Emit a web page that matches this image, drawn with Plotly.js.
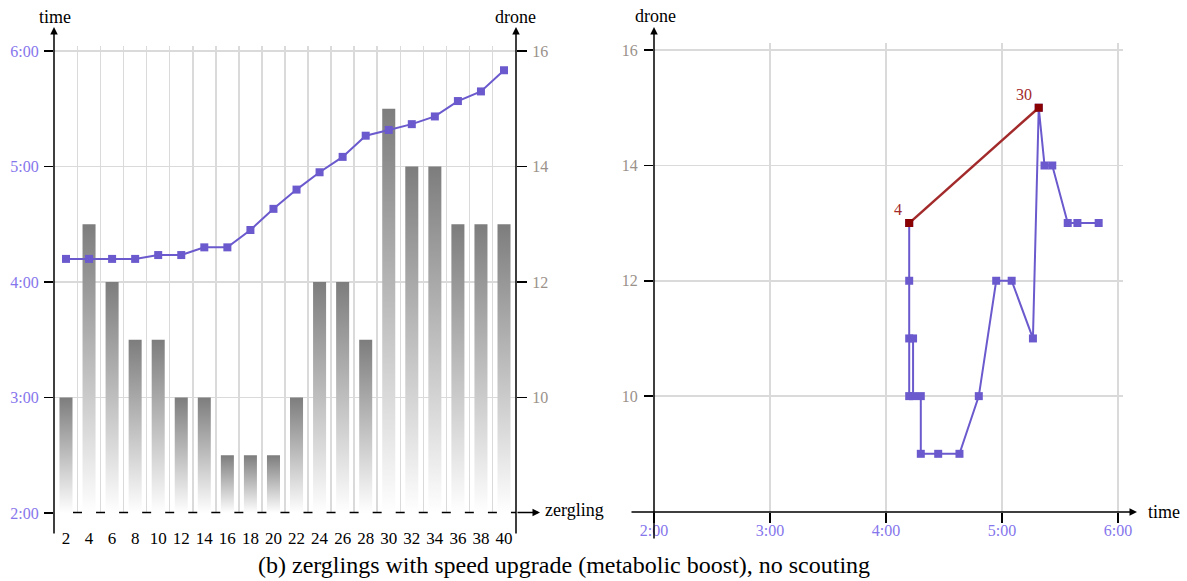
<!DOCTYPE html>
<html>
<head>
<meta charset="utf-8">
<script src="https://cdn.plot.ly/plotly-3.0.1.min.js"></script>
<style>
  html, body { margin: 0; padding: 0; background: #fff; }
  #chart { width: 1187px; height: 581px; }
</style>
</head>
<body>
<div id="chart"></div>
<script>
// ---- data ----
const zerglings = [2, 4, 6, 8, 10, 12, 14, 16, 18, 20, 22, 24, 26, 28, 30, 32, 34, 36, 38, 40];
const drones    = [10, 13, 12, 11, 11, 10, 10, 9, 9, 9, 10, 12, 12, 11, 15, 14, 14, 13, 13, 13];
const times     = ['4:12', '4:12', '4:12', '4:12', '4:14', '4:14', '4:18', '4:18', '4:27', '4:38',
                   '4:48', '4:57', '5:05', '5:16', '5:19', '5:22', '5:26', '5:34', '5:39', '5:50'];
const timeTicks  = ['2:00', '3:00', '4:00', '5:00', '6:00'];
const droneTicks = [10, 12, 14, 16];
const highlight  = [4, 30];
const caption = '(b) zerglings with speed upgrade (metabolic boost), no scouting';

// ---- helpers ----
const W = 1187, H = 581;
const px = v => v / W;
const py = v => 1 - v / H;
const toMin = s => { const p = s.split(':'); return +p[0] + (+p[1]) / 60; };
const timeMin = times.map(toMin);
const timeTickVals = timeTicks.map(toMin);

const FONT = 'Liberation Serif, DejaVu Serif, serif';
const PURPLE = '#6a5acd';
const TICKPURPLE = '#8676ec';
const TICKGRAY = '#9a918a';
const GRID = '#dadada';
const DARKRED = '#8b0000';

const traces = [];

// gradient bars (drone counts), left subplot on base axes x / y (drone)
const barW = 1.13;
zerglings.forEach((z, i) => {
  const d = drones[i];
  traces.push({
    type: 'scatter', mode: 'lines', xaxis: 'x', yaxis: 'y',
    x: [z - barW / 2, z - barW / 2, z + barW / 2, z + barW / 2, z - barW / 2],
    y: [8, d, d, 8, 8],
    fill: 'toself',
    line: { width: 0, color: 'rgba(0,0,0,0)' },
    fillgradient: { type: 'vertical', colorscale: [[0, 'rgba(255,255,255,1)'], [1, 'rgb(125,125,125)']] },
    hoverinfo: 'skip', showlegend: false
  });
});

// time line on overlaying time axis
traces.push({
  type: 'scatter', mode: 'lines+markers', xaxis: 'x', yaxis: 'y2',
  x: zerglings, y: timeMin,
  line: { color: PURPLE, width: 2 },
  marker: { symbol: 'square', size: 8, color: PURPLE },
  showlegend: false
});

// right subplot: drone vs time
traces.push({
  type: 'scatter', mode: 'lines+markers', xaxis: 'x2', yaxis: 'y5',
  x: timeMin, y: drones,
  line: { color: PURPLE, width: 2 },
  marker: { symbol: 'square', size: 8, color: PURPLE },
  showlegend: false
});
const hiIdx = highlight.map(h => zerglings.indexOf(h));
traces.push({
  type: 'scatter', mode: 'lines+markers', xaxis: 'x2', yaxis: 'y5',
  x: hiIdx.map(i => timeMin[i]), y: hiIdx.map(i => drones[i]),
  line: { color: '#a32a2a', width: 2.5 },
  marker: { symbol: 'square', size: 8, color: DARKRED },
  showlegend: false
});

// ---- decorations ----
function arrow(x0, y0, x1, y1) {
  return {
    xref: 'paper', yref: 'paper', x: px(x1), y: py(y1),
    axref: 'pixel', ayref: 'pixel', ax: x0 - x1, ay: y0 - y1,
    showarrow: true, arrowhead: 2, arrowsize: 1, arrowwidth: 1.5, arrowcolor: '#000',
    text: '', standoff: 0
  };
}
function label(text, x, y, xanchor, size, color) {
  return {
    xref: 'paper', yref: 'paper', x: px(x), y: py(y), text: text,
    showarrow: false, xanchor: xanchor || 'center', yanchor: 'middle',
    font: { family: FONT, size: size || 16, color: color || '#000' }
  };
}

const annotations = [
  arrow(54, 535, 54, 27),
  arrow(516, 535, 516, 27),
  arrow(516, 512.5, 540, 512.5),
  arrow(654, 540, 654, 27),
  arrow(630, 512, 1137, 512),
  label('time', 55, 17, 'center', 18),
  label('drone', 515, 17, 'center', 18),
  label('zergling', 543, 510, 'left', 18),
  label('drone', 655, 16, 'center', 18),
  label('time', 1146, 512, 'left', 18),
  label(caption, 564, 565, 'center', 24)
];
highlight.forEach((h, k) => {
  const i = zerglings.indexOf(h);
  annotations.push({
    xref: 'x2', yref: 'y5', x: timeMin[i], y: drones[i], text: String(h),
    showarrow: false, xanchor: 'right', yanchor: 'bottom',
    xshift: -5, yshift: 3,
    font: { family: FONT, size: 16, color: '#a32a2a' }
  });
});

const shapes = [{
  type: 'line', xref: 'paper', yref: 'paper',
  x0: px(73), x1: px(516), y0: py(512.5), y1: py(512.5),
  line: { color: '#000', width: 1.5, dash: '9px,14.05px' }
}];

const tickFont = c => ({ family: FONT, size: 16, color: c });
const leftYDom = [py(513), py(46)];
const rightYDom = [py(511.5), py(43)];
const droneRangeL = [8, 16 + 2 * 5 / 115.5];
const timeRangeL = [2, 6 + 5 / 115.5];

const layout = {
  width: W, height: H,
  margin: { l: 0, r: 0, t: 0, b: 0 },
  paper_bgcolor: '#fff', plot_bgcolor: 'rgba(0,0,0,0)',
  showlegend: false,
  font: { family: FONT },
  xaxis: {
    domain: [px(54), px(516)], range: [0.96, 41.04], anchor: 'y',
    tickmode: 'array', tickvals: zerglings, ticktext: zerglings.map(String),
    ticks: 'outside', ticklen: 10, tickcolor: 'rgba(0,0,0,0)',
    tickfont: { family: FONT, size: 17, color: '#000' },
    showgrid: false, zeroline: false, showline: false,
    minor: { tickmode: 'array', tickvals: zerglings.map(z => z + 1).concat([1]), showgrid: true, gridcolor: GRID, gridwidth: 1.5, ticks: '' }
  },
  yaxis: {  // drone (right side), base axis of left subplot
    domain: leftYDom, range: droneRangeL, anchor: 'x', side: 'right',
    tickmode: 'array', tickvals: droneTicks, ticktext: droneTicks.map(String),
    ticks: 'outside', ticklen: 10, tickwidth: 1.5, tickcolor: '#000',
    tickfont: tickFont(TICKGRAY), ticklabelstandoff: 2,
    showgrid: true, gridcolor: GRID, gridwidth: 1.5, zeroline: false, showline: false
  },
  yaxis2: { // time (left side)
    overlaying: 'y', range: timeRangeL, anchor: 'x', side: 'left',
    tickmode: 'array', tickvals: timeTickVals, ticktext: timeTicks,
    ticks: 'outside', ticklen: 9, tickwidth: 1.5, tickcolor: '#000',
    tickfont: tickFont(TICKPURPLE), ticklabelstandoff: 2,
    showgrid: false, zeroline: false, showline: false
  },
  yaxis3: { // inner tick halves, time axis
    overlaying: 'y', range: timeRangeL, anchor: 'x', side: 'left',
    tickmode: 'array', tickvals: timeTickVals, ticks: 'inside', ticklen: 10, tickwidth: 1.5, tickcolor: '#000',
    showticklabels: false, showgrid: false, zeroline: false, showline: false
  },
  yaxis4: { // inner tick halves, drone axis
    overlaying: 'y', range: droneRangeL, anchor: 'x', side: 'right',
    tickmode: 'array', tickvals: droneTicks, ticks: 'inside', ticklen: 10, tickwidth: 1.5, tickcolor: '#000',
    showticklabels: false, showgrid: false, zeroline: false, showline: false
  },
  xaxis2: {
    domain: [px(654), px(1123)], range: [2, 6 + 5 / 116], anchor: 'y5',
    tickmode: 'array', tickvals: timeTickVals, ticktext: timeTicks,
    ticks: 'outside', ticklen: 10, tickwidth: 1.5, tickcolor: '#000',
    tickfont: tickFont(TICKPURPLE), ticklabelstandoff: -6,
    showgrid: true, gridcolor: GRID, gridwidth: 1.5, zeroline: false, showline: false
  },
  xaxis3: {
    overlaying: 'x2', range: [2, 6 + 5 / 116], anchor: 'y5',
    tickmode: 'array', tickvals: timeTickVals, ticks: 'inside', ticklen: 10, tickwidth: 1.5, tickcolor: '#000',
    showticklabels: false, showgrid: false, zeroline: false, showline: false
  },
  yaxis5: {
    domain: rightYDom, range: [8, 16 + 7 / 57.6], anchor: 'x2', side: 'left',
    tickmode: 'array', tickvals: droneTicks, ticktext: droneTicks.map(String),
    ticks: 'outside', ticklen: 9, tickwidth: 1.5, tickcolor: '#000',
    tickfont: tickFont(TICKGRAY), ticklabelstandoff: 3,
    showgrid: true, gridcolor: GRID, gridwidth: 1.5, zeroline: false, showline: false
  },
  yaxis6: {
    overlaying: 'y5', range: [8, 16 + 7 / 57.6], anchor: 'x2', side: 'left',
    tickmode: 'array', tickvals: droneTicks, ticks: 'inside', ticklen: 10, tickwidth: 1.5, tickcolor: '#000',
    showticklabels: false, showgrid: false, zeroline: false, showline: false
  },
  shapes: shapes,
  annotations: annotations
};

Plotly.newPlot('chart', traces, layout, { displayModeBar: false, staticPlot: true });
</script>
</body>
</html>
